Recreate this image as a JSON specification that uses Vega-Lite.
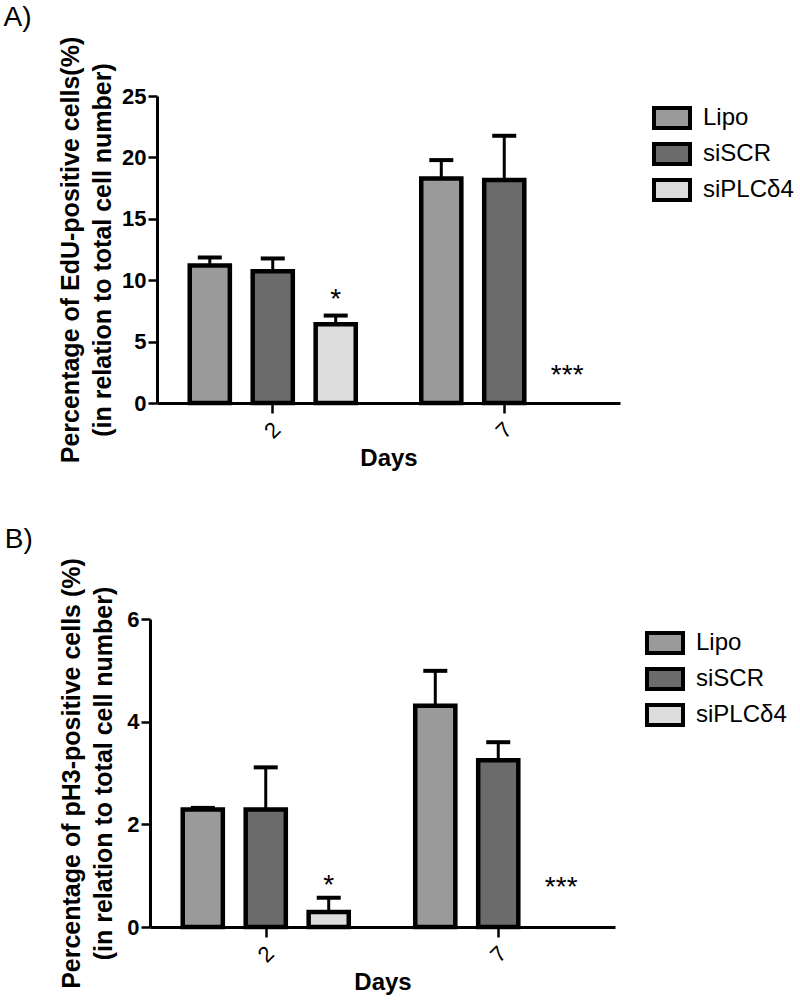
{
  "$schema": "https://vega.github.io/schema/vega-lite/v6.json",
  "padding": {"left": 3, "top": 4, "right": 0, "bottom": 0},
  "background": "white",
  "columns": 1,
  "resolve": {"scale": {"fill": "independent"}, "legend": {"fill": "independent"}},
  "config": {
    "font": "Liberation Sans",
    "view": {"stroke": null},
    "axis": {"domainColor": "black", "domainWidth": 3, "tickColor": "black", "tickWidth": 2.5, "tickSize": 9, "labelColor": "black", "titleColor": "black", "grid": false},
    "legend": {"orient": "none", "title": null, "symbolType": "M-1.8,-1L1.8,-1L1.8,1L-1.8,1Z", "symbolSize": 400, "symbolStrokeColor": "black", "symbolStrokeWidth": 4, "symbolOpacity": 1, "labelFontSize": 24, "labelColor": "black", "labelOffset": 19, "rowPadding": 0, "labelLimit": 200},
    "title": {"color": "black", "fontSize": 28, "fontWeight": "normal", "anchor": "start", "frame": "bounds", "offset": 0}
  },
  "datasets": {
    "a": [
      {"day": "2", "group": "Lipo", "mean": 11.2, "upper": 11.85, "star": "", "star_y": 0},
      {"day": "2", "group": "siSCR", "mean": 10.73, "upper": 11.77, "star": "", "star_y": 0},
      {"day": "2", "group": "siPLCδ4", "mean": 6.41, "upper": 7.12, "star": "*", "star_y": 8.86},
      {"day": "7", "group": "Lipo", "mean": 18.29, "upper": 19.78, "star": "", "star_y": 0},
      {"day": "7", "group": "siSCR", "mean": 18.15, "upper": 21.76, "star": "", "star_y": 0},
      {"day": "7", "group": "siPLCδ4", "mean": 0, "upper": 0, "star": "***", "star_y": 2.7}
    ],
    "b": [
      {"day": "2", "group": "Lipo", "mean": 2.29, "upper": 2.32, "star": "", "star_y": 0},
      {"day": "2", "group": "siSCR", "mean": 2.29, "upper": 3.11, "star": "", "star_y": 0},
      {"day": "2", "group": "siPLCδ4", "mean": 0.29, "upper": 0.57, "star": "*", "star_y": 0.92},
      {"day": "7", "group": "Lipo", "mean": 4.31, "upper": 4.99, "star": "", "star_y": 0},
      {"day": "7", "group": "siSCR", "mean": 3.25, "upper": 3.6, "star": "", "star_y": 0},
      {"day": "7", "group": "siPLCδ4", "mean": 0, "upper": 0, "star": "***", "star_y": 0.88}
    ]
  },
  "spacing": 54,
  "concat": [
    {
      "width": 463,
      "height": 307,
      "title": {"text": "A)", "dx": -55},
      "data": {"name": "a"},
      "encoding": {
        "x": {"field": "day", "type": "nominal", "scale": {"paddingInner": 0, "paddingOuter": 0},
          "axis": {"title": "Days", "labelAngle": -45, "labelAlign": "center", "labelBaseline": "middle", "labelPadding": 17, "labelFontSize": 22, "tickSize": 10, "titleFontSize": 24, "titleFontWeight": "bold", "titlePadding": 4}},
        "xOffset": {"field": "group", "type": "nominal", "sort": ["Lipo", "siSCR", "siPLCδ4"], "scale": {"paddingInner": 0.363, "paddingOuter": 0.52}}
      },
      "layer": [
        {
          "mark": {"type": "bar", "stroke": "black", "strokeWidth": 4.5},
          "transform": [{"filter": "datum.mean > 0"}],
          "encoding": {
            "y": {"field": "mean", "type": "quantitative", "scale": {"domain": [0, 25], "nice": false},
              "axis": {"title": ["Percentage of EdU-positive cells(%)", "(in relation to total cell number)"], "values": [0, 5, 10, 15, 20, 25], "labelFontSize": 22, "labelFontWeight": "bold", "labelPadding": 2, "titleFontSize": 25, "titleFontWeight": "bold", "titleLineHeight": 32, "titlePadding": 6}},
            "fill": {"field": "group", "type": "nominal", "sort": ["Lipo", "siSCR", "siPLCδ4"],
              "scale": {"domain": ["Lipo", "siSCR", "siPLCδ4"], "range": ["#9a9a9a", "#6b6b6b", "#dcdcdc"]},
              "legend": {"legendX": 503, "legendY": 10}}
          }
        },
        {
          "mark": {"type": "rule", "strokeWidth": 3, "color": "black"},
          "transform": [{"filter": "datum.upper > datum.mean"}],
          "encoding": {"y": {"field": "mean", "type": "quantitative"}, "y2": {"field": "upper"}}
        },
        {
          "mark": {"type": "tick", "thickness": 4, "size": 24, "color": "black", "opacity": 1},
          "transform": [{"filter": "datum.upper > 0"}],
          "encoding": {"y": {"field": "upper", "type": "quantitative"}}
        },
        {
          "mark": {"type": "text", "fontSize": 28, "baseline": "middle", "dy": 6, "color": "black"},
          "transform": [{"filter": "datum.star != ''"}],
          "encoding": {"y": {"field": "star_y", "type": "quantitative"}, "text": {"field": "star"}}
        }
      ]
    },
    {
      "width": 463,
      "height": 308,
      "title": {"text": "B)", "dx": -55},
      "data": {"name": "b"},
      "encoding": {
        "x": {"field": "day", "type": "nominal", "scale": {"paddingInner": 0, "paddingOuter": 0, "range": [-7, 458]},
          "axis": {"title": "Days", "labelAngle": -45, "labelAlign": "center", "labelBaseline": "middle", "labelPadding": 17, "labelFontSize": 22, "tickSize": 10, "titleFontSize": 24, "titleFontWeight": "bold", "titlePadding": 4}},
        "xOffset": {"field": "group", "type": "nominal", "sort": ["Lipo", "siSCR", "siPLCδ4"], "scale": {"paddingInner": 0.363, "paddingOuter": 0.52}}
      },
      "layer": [
        {
          "mark": {"type": "bar", "stroke": "black", "strokeWidth": 4.5},
          "transform": [{"filter": "datum.mean > 0"}],
          "encoding": {
            "y": {"field": "mean", "type": "quantitative", "scale": {"domain": [0, 6], "nice": false},
              "axis": {"title": ["Percentage of pH3-positive cells (%)", "(in relation to total cell number)"], "values": [0, 2, 4, 6], "offset": 7, "labelFontSize": 22, "labelFontWeight": "bold", "labelPadding": 2, "titleFontSize": 25, "titleFontWeight": "bold", "titleLineHeight": 32, "titlePadding": 10}},
            "fill": {"field": "group", "type": "nominal", "sort": ["Lipo", "siSCR", "siPLCδ4"],
              "scale": {"domain": ["Lipo", "siSCR", "siPLCδ4"], "range": ["#9a9a9a", "#6b6b6b", "#dcdcdc"]},
              "legend": {"legendX": 496, "legendY": 12}}
          }
        },
        {
          "mark": {"type": "rule", "strokeWidth": 3, "color": "black"},
          "transform": [{"filter": "datum.upper > datum.mean"}],
          "encoding": {"y": {"field": "mean", "type": "quantitative"}, "y2": {"field": "upper"}}
        },
        {
          "mark": {"type": "tick", "thickness": 4, "size": 24, "color": "black", "opacity": 1},
          "transform": [{"filter": "datum.upper > 0"}],
          "encoding": {"y": {"field": "upper", "type": "quantitative"}}
        },
        {
          "mark": {"type": "text", "fontSize": 28, "baseline": "middle", "dy": 6, "color": "black"},
          "transform": [{"filter": "datum.star != ''"}],
          "encoding": {"y": {"field": "star_y", "type": "quantitative"}, "text": {"field": "star"}}
        }
      ]
    }
  ]
}
